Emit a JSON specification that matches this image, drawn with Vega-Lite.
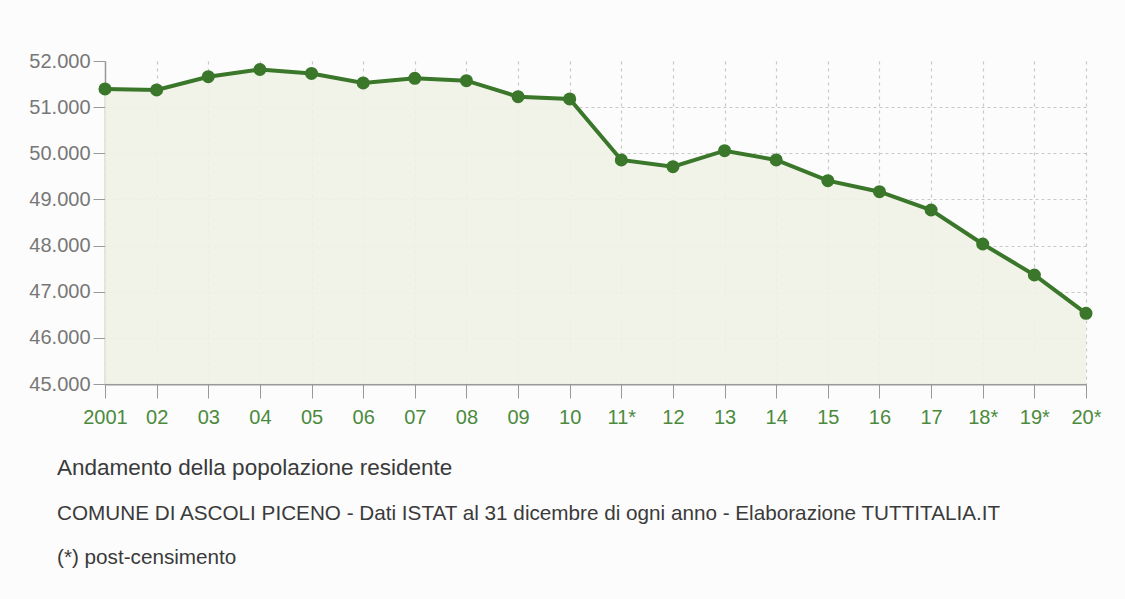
{
  "$schema": "https://vega.github.io/schema/vega-lite/v6.json",
  "autosize": {"type": "none"},
  "width": 981,
  "height": 323,
  "padding": {"left": 105, "top": 61, "right": 39, "bottom": 215},
  "background": "#fcfcfc",
  "config": {
    "view": {"stroke": null},
    "font": "Liberation Sans"
  },
  "title": {
    "text": "Andamento della popolazione residente",
    "subtitle": ["COMUNE DI ASCOLI PICENO - Dati ISTAT al 31 dicembre di ogni anno - Elaborazione TUTTITALIA.IT", "(*) post-censimento"],
    "orient": "bottom",
    "anchor": "start",
    "frame": "group",
    "dx": -48,
    "offset": 30,
    "font": "Liberation Sans",
    "fontSize": 22.5,
    "fontWeight": "normal",
    "color": "#3a3a3a",
    "subtitleFont": "Liberation Sans",
    "subtitleFontSize": 20.7,
    "subtitleColor": "#3a3a3a",
    "subtitlePadding": 24,
    "subtitleLineHeight": 44
  },
  "data": {
    "values": [
      {"anno": "2001", "popolazione": 51394},
      {"anno": "02", "popolazione": 51372},
      {"anno": "03", "popolazione": 51660},
      {"anno": "04", "popolazione": 51816},
      {"anno": "05", "popolazione": 51730},
      {"anno": "06", "popolazione": 51524},
      {"anno": "07", "popolazione": 51625},
      {"anno": "08", "popolazione": 51573},
      {"anno": "09", "popolazione": 51227},
      {"anno": "10", "popolazione": 51177},
      {"anno": "11*", "popolazione": 49855},
      {"anno": "12", "popolazione": 49710},
      {"anno": "13", "popolazione": 50056},
      {"anno": "14", "popolazione": 49855},
      {"anno": "15", "popolazione": 49406},
      {"anno": "16", "popolazione": 49168},
      {"anno": "17", "popolazione": 48771},
      {"anno": "18*", "popolazione": 48034},
      {"anno": "19*", "popolazione": 47362},
      {"anno": "20*", "popolazione": 46532}
    ]
  },
  "encoding": {
    "x": {
      "field": "anno",
      "type": "ordinal",
      "sort": null,
      "scale": {"type": "point", "padding": 0},
      "axis": {
        "title": null,
        "labelAngle": 0,
        "labelFontSize": 20,
        "labelColor": "#4b8a3c",
        "labelPadding": 9,
        "labelFont": "Liberation Sans",
        "tickSize": 14,
        "tickColor": "#999999",
        "domainColor": "#999999",
        "domainWidth": 2,
        "grid": true,
        "gridColor": "#c8c8c8",
        "gridDash": [3, 4],
        "gridWidth": 1.2
      }
    },
    "y": {
      "field": "popolazione",
      "type": "quantitative",
      "scale": {"domain": [45000, 52000], "nice": false, "zero": false},
      "axis": {
        "title": null,
        "values": [45000, 46000, 47000, 48000, 49000, 50000, 51000, 52000],
        "labelExpr": "replace(format(datum.value, ','), ',', '.')",
        "labelFontSize": 20,
        "labelColor": "#777777",
        "labelPadding": 3,
        "labelFont": "Liberation Sans",
        "tickSize": 12,
        "tickColor": "#999999",
        "domainColor": "#999999",
        "domainWidth": 1.5,
        "grid": true,
        "gridColor": "#c8c8c8",
        "gridDash": [3, 3],
        "gridWidth": 1.2,
        "gridOpacity": {"condition": {"test": "datum.value == 52000", "value": 0}, "value": 1}
      }
    }
  },
  "layer": [
    {
      "mark": {"type": "area", "color": "#f1f2e6", "opacity": 0.9},
      "encoding": {"y2": {"datum": 45000}}
    },
    {
      "mark": {"type": "line", "color": "#3a772a", "strokeWidth": 4}
    },
    {
      "mark": {"type": "point", "filled": true, "color": "#3a772a", "size": 170, "opacity": 1}
    }
  ]
}
